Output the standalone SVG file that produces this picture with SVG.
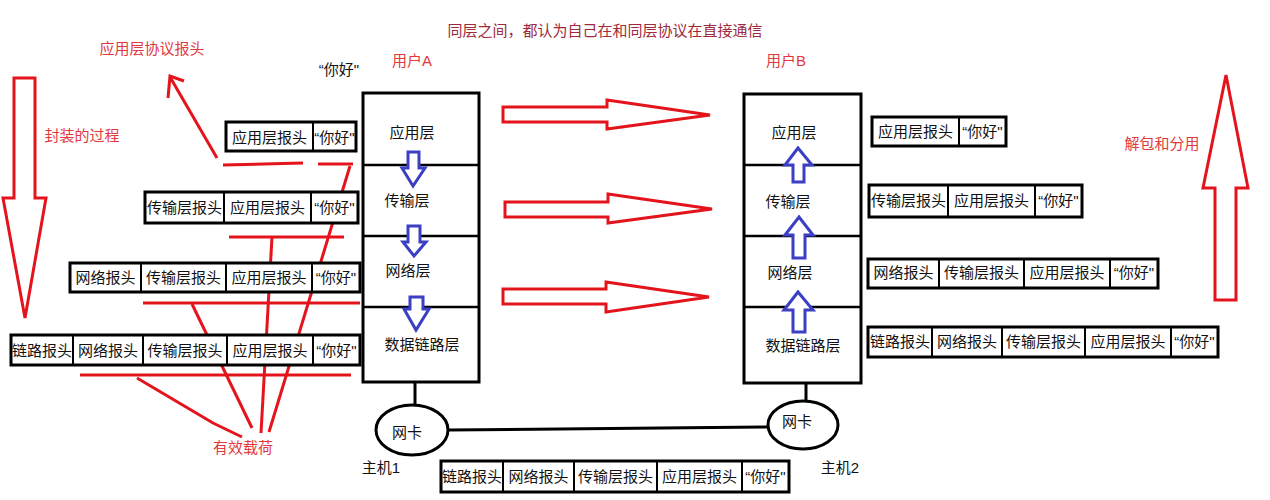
<svg xmlns="http://www.w3.org/2000/svg" width="1270" height="500" viewBox="0 0 1270 500">
<style>
text{font-family:"Liberation Sans","Noto Sans CJK SC",sans-serif;font-size:15px;dominant-baseline:central;text-anchor:middle}
.k{fill:#111}
.r{fill:#e2393f}
.t{fill:#9e2a3b}
.box{fill:#fff;stroke:#000;stroke-width:3}
.div{stroke:#000;stroke-width:2}
.stack{fill:#fff;stroke:#000;stroke-width:3}
.sep{stroke:#000;stroke-width:2.5}
.big{fill:#fff;stroke:#e4141c;stroke-width:3;stroke-linejoin:miter}
.blue{fill:#fff;stroke:#3a3fc4;stroke-width:3}
.rl{stroke:#e4141c;stroke-width:3;fill:none}
.bl{stroke:#000;stroke-width:3;fill:none}
</style>
<rect width="1270" height="500" fill="#fff"/>

<g id="labels">
<text class="t" x="605" y="30">同层之间，都认为自己在和同层协议在直接通信</text>
<text class="r" x="152" y="48">应用层协议报头</text>
<text class="k" x="339" y="69">“你好"</text>
<text class="r" x="412" y="60">用户A</text>
<text class="r" x="786" y="60">用户B</text>
<text class="r" x="82" y="135">封装的过程</text>
<text class="r" x="1162" y="143">解包和分用</text>
<text class="r" x="243" y="447">有效载荷</text>
<text class="k" x="381" y="467">主机1</text>
<text class="k" x="840" y="467">主机2</text>
</g>

<g id="big-arrows">
<polygon class="big" points="14,78 35,78 35,198 46,198 25,318 3,198 14,198"/>
<polygon class="big" points="1226,75 1248,188 1236,188 1236,300 1215,300 1215,188 1203,188"/>
<polygon class="big" points="503,107 607,107 607,100 710,115 607,129 607,122 503,122"/>
<polygon class="big" points="505,202 608,202 608,194 712,209 608,223 608,217 505,217"/>
<polygon class="big" points="503,289 606,289 606,282 709,297 606,312 606,304 503,304"/>
</g>

<g id="stackA">
<rect class="stack" x="363" y="93" width="116" height="289"/>
<line class="sep" x1="363" y1="165" x2="479" y2="165"/>
<line class="sep" x1="363" y1="236" x2="479" y2="236"/>
<line class="sep" x1="363" y1="307" x2="479" y2="307"/>
<text class="k" x="412" y="132">应用层</text>
<text class="k" x="407" y="200">传输层</text>
<text class="k" x="408" y="270">网络层</text>
<text class="k" x="422" y="344">数据链路层</text>
<polygon class="blue" points="408,152 419,152 419,168 425,168 413,186 402,168 408,168"/>
<polygon class="blue" points="408,226 420,226 420,242 426,242 414,256 403,242 408,242"/>
<polygon class="blue" points="410,297 423,297 423,309 429,309 416,330 404,309 410,309"/>
</g>

<g id="stackB">
<rect class="stack" x="744" y="94" width="117" height="289"/>
<line class="sep" x1="744" y1="165" x2="861" y2="165"/>
<line class="sep" x1="744" y1="236" x2="861" y2="236"/>
<line class="sep" x1="744" y1="307" x2="861" y2="307"/>
<text class="k" x="794" y="132">应用层</text>
<text class="k" x="788" y="201">传输层</text>
<text class="k" x="790" y="272">网络层</text>
<text class="k" x="803" y="345">数据链路层</text>
<polygon class="blue" points="798,148 812,165 804,165 804,182 793,182 793,165 785,165"/>
<polygon class="blue" points="799,217 813,235 805,235 805,258 793,258 793,235 785,235"/>
<polygon class="blue" points="798,292 813,310 805,310 805,332 793,332 793,310 784,310"/>
</g>

<g id="nic1">
<ellipse cx="412" cy="430" rx="36" ry="25" fill="#fff" stroke="#000" stroke-width="3"/>
<text class="k" x="407" y="432">网卡</text>
</g>
<g id="nic2">
<ellipse cx="803" cy="425" rx="35" ry="24" fill="#fff" stroke="#000" stroke-width="3"/>
<text class="k" x="797" y="421">网卡</text>
</g>

<g id="connectors">
<line class="bl" x1="415" y1="382" x2="415" y2="405"/>
<line class="bl" x1="806" y1="383" x2="806" y2="401"/>
<line class="bl" x1="448" y1="430" x2="768" y2="427"/>
<line class="rl" x1="217" y1="158" x2="170" y2="77"/>
<polyline class="rl" points="168,98 170,76 184,81"/>
<line class="rl" x1="223" y1="165" x2="303" y2="163"/>
<line class="rl" x1="318" y1="164" x2="353" y2="164"/>
<line class="rl" x1="229" y1="237" x2="344" y2="237"/>
<line class="rl" x1="143" y1="303" x2="360" y2="303"/>
<line class="rl" x1="80" y1="375" x2="351" y2="375"/>
<line class="rl" x1="350" y1="166" x2="269" y2="432"/>
<line class="rl" x1="272" y1="237" x2="261" y2="433"/>
<line class="rl" x1="192" y1="304" x2="252" y2="428"/>
<polyline class="rl" points="137,378 213,423 242,437"/>
</g>

<g id="pktA1">
<rect class="box" x="226" y="122" width="130" height="29"/>
<line class="div" x1="313" y1="122" x2="313" y2="151"/>
<text class="k" x="269.5" y="137">应用层报头</text>
<text class="k" x="334.5" y="137">“你好"</text>
</g>
<g id="pktA2">
<rect class="box" x="145" y="192" width="213" height="31"/>
<line class="div" x1="224" y1="192" x2="224" y2="223"/>
<line class="div" x1="311" y1="192" x2="311" y2="223"/>
<text class="k" x="184.5" y="207">传输层报头</text>
<text class="k" x="267.5" y="207">应用层报头</text>
<text class="k" x="334.5" y="207">“你好"</text>
</g>
<g id="pktA3">
<rect class="box" x="70" y="263" width="290" height="29"/>
<line class="div" x1="141" y1="263" x2="141" y2="292"/>
<line class="div" x1="226" y1="263" x2="226" y2="292"/>
<line class="div" x1="312" y1="263" x2="312" y2="292"/>
<text class="k" x="105.5" y="277">网络报头</text>
<text class="k" x="183.5" y="277">传输层报头</text>
<text class="k" x="269" y="277">应用层报头</text>
<text class="k" x="336" y="277">“你好"</text>
</g>
<g id="pktA4">
<rect class="box" x="11" y="335" width="349" height="30"/>
<line class="div" x1="73" y1="335" x2="73" y2="365"/>
<line class="div" x1="143" y1="335" x2="143" y2="365"/>
<line class="div" x1="227" y1="335" x2="227" y2="365"/>
<line class="div" x1="313" y1="335" x2="313" y2="365"/>
<text class="k" x="42" y="350">链路报头</text>
<text class="k" x="108" y="350">网络报头</text>
<text class="k" x="185" y="350">传输层报头</text>
<text class="k" x="270" y="350">应用层报头</text>
<text class="k" x="336.5" y="350">“你好"</text>
</g>

<g id="pktB1">
<rect class="box" x="872" y="117" width="134" height="29"/>
<line class="div" x1="959" y1="117" x2="959" y2="146"/>
<text class="k" x="915.5" y="131.5">应用层报头</text>
<text class="k" x="982.5" y="131.5">“你好"</text>
</g>
<g id="pktB2">
<rect class="box" x="869" y="185" width="213" height="32"/>
<line class="div" x1="948" y1="185" x2="948" y2="217"/>
<line class="div" x1="1035" y1="185" x2="1035" y2="217"/>
<text class="k" x="908.5" y="200">传输层报头</text>
<text class="k" x="991.5" y="200">应用层报头</text>
<text class="k" x="1058.5" y="200">“你好"</text>
</g>
<g id="pktB3">
<rect class="box" x="868" y="259" width="290" height="29"/>
<line class="div" x1="939" y1="259" x2="939" y2="288"/>
<line class="div" x1="1024" y1="259" x2="1024" y2="288"/>
<line class="div" x1="1110" y1="259" x2="1110" y2="288"/>
<text class="k" x="903.5" y="272">网络报头</text>
<text class="k" x="981.5" y="272">传输层报头</text>
<text class="k" x="1067" y="272">应用层报头</text>
<text class="k" x="1134" y="272">“你好"</text>
</g>
<g id="pktB4">
<rect class="box" x="868" y="327" width="350" height="30"/>
<line class="div" x1="932" y1="327" x2="932" y2="357"/>
<line class="div" x1="1002" y1="327" x2="1002" y2="357"/>
<line class="div" x1="1085" y1="327" x2="1085" y2="357"/>
<line class="div" x1="1171" y1="327" x2="1171" y2="357"/>
<text class="k" x="900" y="341">链路报头</text>
<text class="k" x="967" y="341">网络报头</text>
<text class="k" x="1043.5" y="341">传输层报头</text>
<text class="k" x="1128" y="341">应用层报头</text>
<text class="k" x="1194.5" y="341">“你好"</text>
</g>

<g id="pktWire">
<rect class="box" x="441" y="461" width="348" height="31"/>
<line class="div" x1="503" y1="461" x2="503" y2="492"/>
<line class="div" x1="574" y1="461" x2="574" y2="492"/>
<line class="div" x1="657" y1="461" x2="657" y2="492"/>
<line class="div" x1="742" y1="461" x2="742" y2="492"/>
<text class="k" x="472" y="476">链路报头</text>
<text class="k" x="538.5" y="476">网络报头</text>
<text class="k" x="615.5" y="476">传输层报头</text>
<text class="k" x="699.5" y="476">应用层报头</text>
<text class="k" x="765.5" y="476">“你好"</text>
</g>
</svg>
